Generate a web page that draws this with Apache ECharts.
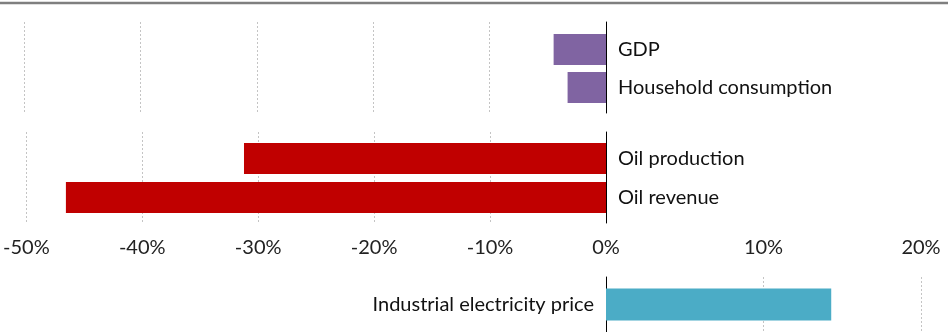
<!DOCTYPE html>
<html lang="en">
<head>
<meta charset="utf-8">
<script src="https://cdn.jsdelivr.net/npm/echarts@6/dist/echarts.min.js"></script>
<style>
	html, body { margin: 0; padding: 0; background: #fff; }
	#chart { width: 948px; height: 332px; }
</style>
</head>
<body>
<div id="chart"></div>
<script>
	// data
	var econCats = ['GDP', 'Household consumption'];
	var econVals = [-4.5, -3.3];
	var oilCats = ['Oil production', 'Oil revenue'];
	var oilVals = [-31.1, -46.4];
	var priceCats = ['Industrial electricity price'];
	var priceVals = [14.3];

	var FONT = 'Lato';
	var FS = 20;
	var dotted = { show: true, lineStyle: { color: '#c4c4c4', type: [2, 2], width: 1 } };
	var zeroLine = { show: true, onZero: false, lineStyle: { color: '#000', width: 1 } };
	var pct = function (v) { return v + '%'; };

	var chart = echarts.init(document.getElementById('chart'));

	// frame grid: gridlines + zero line; bar grid: bars + category labels
	function frameAxes(gi, withLabels) {
		return {
			x: {
				type: 'value', gridIndex: gi, min: -50, max: 0, interval: 10,
				axisLine: { show: false }, axisTick: { show: false },
				axisLabel: withLabels ? { show: true, formatter: pct, margin: 15, fontFamily: FONT, fontSize: FS, color: '#222' } : { show: false },
				splitLine: dotted
			},
			y: {
				type: 'value', gridIndex: gi, position: 'right',
				axisLine: zeroLine, axisTick: { show: false }, axisLabel: { show: false }, splitLine: { show: false }
			}
		};
	}
	function barAxes(gi, cats) {
		return {
			x: { type: 'value', gridIndex: gi, min: -50, max: 0, show: false, splitLine: { show: false } },
			y: {
				type: 'category', gridIndex: gi, data: cats, inverse: true, position: 'right',
				axisLine: { show: false }, axisTick: { show: false },
				axisLabel: { margin: 12, fontFamily: FONT, fontSize: FS, color: '#111' }
			}
		};
	}

	var f0 = frameAxes(0, false), b1 = barAxes(1, econCats);
	var f2 = frameAxes(2, true), b3 = barAxes(3, oilCats);

	chart.setOption({
		animation: false,
		graphic: [{
			type: 'line', shape: { x1: 0, y1: 3, x2: 948, y2: 3 },
			style: { stroke: '#7f7f7f', lineWidth: 2.5 }
		}],
		grid: [
			{ left: 24, right: 342, top: 22, height: 91 },
			{ left: 24, right: 342, top: 30.5, height: 76 },
			{ left: 24, right: 342, top: 132, height: 91 },
			{ left: 24, right: 342, top: 139, height: 78 },
			{ left: 606, right: 27, top: 277, height: 60 }
		],
		xAxis: [f0.x, b1.x, f2.x, b3.x, {
			type: 'value', gridIndex: 4, min: 0, max: 20, interval: 10, position: 'top',
			axisLine: { show: false }, axisTick: { show: false },
			axisLabel: {
				margin: 19, fontFamily: FONT, fontSize: FS, color: '#222',
				formatter: function (v) { return v === 0 ? '' : v + '%'; }
			},
			splitLine: dotted
		}],
		yAxis: [f0.y, b1.y, f2.y, b3.y, {
			type: 'category', gridIndex: 4, data: priceCats, position: 'left',
			axisLine: zeroLine, axisTick: { show: false },
			axisLabel: { margin: 12, fontFamily: FONT, fontSize: FS, color: '#111' }
		}],
		series: [
			{ type: 'bar', xAxisIndex: 1, yAxisIndex: 1, data: econVals, barWidth: 31, itemStyle: { color: '#8064A2' } },
			{ type: 'bar', xAxisIndex: 3, yAxisIndex: 3, data: oilVals, barWidth: 31, itemStyle: { color: '#C00000' } },
			{ type: 'bar', xAxisIndex: 4, yAxisIndex: 4, data: priceVals, barWidth: 32, itemStyle: { color: '#4BACC6' } }
		]
	});
</script>
</body>
</html>
